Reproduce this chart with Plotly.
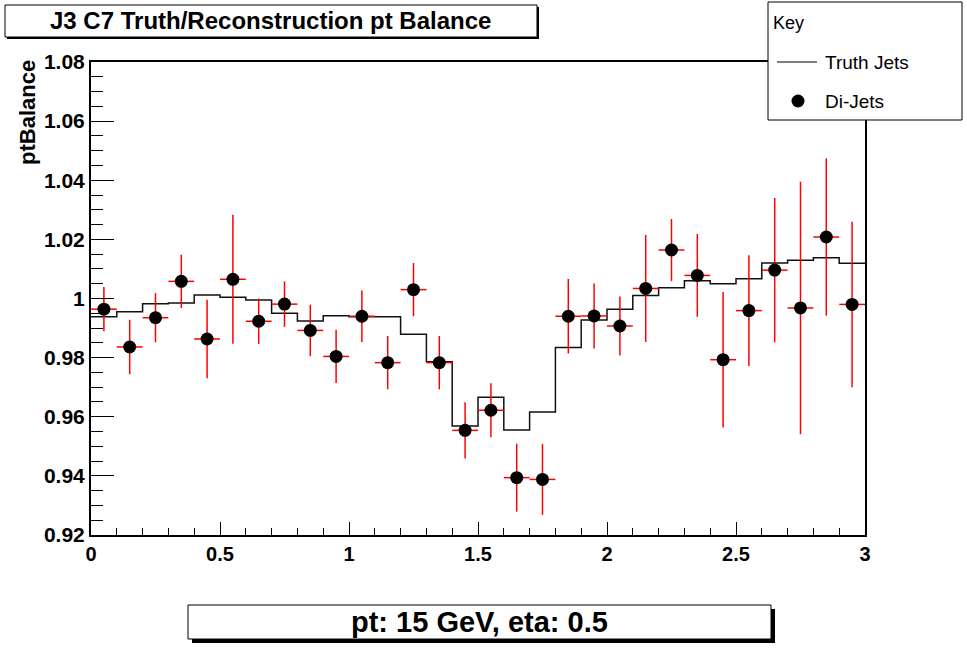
import plotly.graph_objects as go

# ---------------- data ----------------
bin_edges = [round(0.1 * i, 1) for i in range(31)]
bin_centers = [round(0.05 + 0.1 * i, 2) for i in range(30)]

truth_jets = [0.9938, 0.9955, 0.9982, 0.9985, 1.0012, 1.0004, 0.9995, 0.9950, 0.9924, 0.9942,
              0.9938, 0.9938, 0.9879, 0.9786, 0.9569, 0.9666, 0.9555, 0.9616, 0.9834, 0.9927,
              0.9964, 1.0010, 1.0036, 1.0060, 1.0050, 1.0067, 1.0120, 1.0129, 1.0138, 1.0119]

dijets = [0.9964, 0.9836, 0.9935, 1.0058, 0.9863, 1.0065, 0.9923, 0.9981, 0.9892, 0.9804,
          0.9940, 0.9783, 1.0030, 0.9783, 0.9554, 0.9622, 0.9394, 0.9388, 0.9940, 0.9941,
          0.9907, 1.0034, 1.0164, 1.0078, 0.9793, 0.9959, 1.0096, 0.9968, 1.0208, 0.9980]

dijets_err = [0.0075, 0.0092, 0.0083, 0.0090, 0.0133, 0.0218, 0.0077, 0.0077, 0.0087, 0.0090,
              0.0087, 0.0090, 0.0090, 0.0090, 0.0095, 0.0091, 0.0115, 0.0120, 0.0126, 0.0110,
              0.0100, 0.0181, 0.0105, 0.0140, 0.0229, 0.0187, 0.0244, 0.0427, 0.0266, 0.0280]

bin_half_width = 0.05

title_text = "J3 C7 Truth/Reconstruction pt Balance"
subtitle_text = "pt: 15 GeV, eta: 0.5"
y_title = "ptBalance"
legend_title = "Key"
series_names = ["Truth Jets", "Di-Jets"]

# ---------------- geometry helpers ----------------
W, H = 967, 653
L, R, T, B = 91, 865, 62, 535


def px(x):
    return (x - L) / (R - L)


def py(y):
    return (B - y) / (B - T)


FONT = "Liberation Sans, Arial, sans-serif"

fig = go.Figure()

# Truth histogram (step)
fig.add_trace(go.Scatter(
    x=bin_edges,
    y=truth_jets + [truth_jets[-1]],
    mode="lines",
    line=dict(color="#111111", width=1.5, shape="hv"),
    name=series_names[0],
    showlegend=False,
    hoverinfo="skip",
))

# Di-jets points with errors
fig.add_trace(go.Scatter(
    x=bin_centers,
    y=dijets,
    mode="markers",
    marker=dict(color="black", size=13, symbol="circle"),
    error_y=dict(type="data", array=dijets_err, color="red", thickness=1.5, width=0),
    error_x=dict(type="constant", value=bin_half_width, color="red", thickness=1.5, width=0),
    name=series_names[1],
    showlegend=False,
))

shapes = []
annotations = []

# Title box with small shadow
shapes.append(dict(type="rect", xref="paper", yref="paper",
                   x0=px(7), x1=px(539), y0=py(7), y1=py(39),
                   fillcolor="black", line=dict(width=0), layer="above"))
shapes.append(dict(type="rect", xref="paper", yref="paper",
                   x0=px(5), x1=px(537), y0=py(5), y1=py(37),
                   fillcolor="white", line=dict(color="black", width=1), layer="above"))
annotations.append(dict(text=title_text, xref="paper", yref="paper",
                        x=px(270), y=py(21), xanchor="center", yanchor="middle",
                        showarrow=False,
                        font=dict(family=FONT, size=24, color="black", weight="bold")))

# Bottom label box with shadow
shapes.append(dict(type="rect", xref="paper", yref="paper",
                   x0=px(192), x1=px(775), y0=py(609), y1=py(643),
                   fillcolor="black", line=dict(width=0), layer="above"))
shapes.append(dict(type="rect", xref="paper", yref="paper",
                   x0=px(188), x1=px(771), y0=py(605), y1=py(639),
                   fillcolor="white", line=dict(color="black", width=1), layer="above"))
annotations.append(dict(text=subtitle_text, xref="paper", yref="paper",
                        x=px(479), y=py(622), xanchor="center", yanchor="middle",
                        showarrow=False,
                        font=dict(family=FONT, size=29, color="black", weight="bold")))

# Legend ("Key") box
shapes.append(dict(type="rect", xref="paper", yref="paper",
                   x0=px(768), x1=px(962), y0=py(2), y1=py(120),
                   fillcolor="white", line=dict(color="black", width=1), layer="above"))
annotations.append(dict(text=legend_title, xref="paper", yref="paper",
                        x=px(771), y=py(23), xanchor="left", yanchor="middle",
                        showarrow=False,
                        font=dict(family=FONT, size=18, color="black")))
shapes.append(dict(type="line", xref="paper", yref="paper",
                   x0=px(777), x1=px(817), y0=py(62), y1=py(62),
                   line=dict(color="black", width=1.2), layer="above"))
annotations.append(dict(text=series_names[0], xref="paper", yref="paper",
                        x=px(823), y=py(62), xanchor="left", yanchor="middle",
                        showarrow=False,
                        font=dict(family=FONT, size=19, color="black")))
shapes.append(dict(type="circle", xref="paper", yref="paper",
                   x0=px(791.5), x1=px(804.5), y0=py(94.5), y1=py(107.5),
                   fillcolor="black", line=dict(color="black", width=0), layer="above"))
annotations.append(dict(text=series_names[1], xref="paper", yref="paper",
                        x=px(823), y=py(101), xanchor="left", yanchor="middle",
                        showarrow=False,
                        font=dict(family=FONT, size=19, color="black")))

# Y axis title (top-aligned like ROOT)
annotations.append(dict(text=y_title, xref="paper", yref="paper",
                        x=px(27), y=py(113), xanchor="center", yanchor="middle",
                        textangle=-90, showarrow=False,
                        font=dict(family=FONT, size=22, color="black", weight="bold")))

fig.update_layout(
    width=W, height=H,
    margin=dict(l=L, r=W - R, t=T, b=H - B, pad=0),
    paper_bgcolor="white",
    plot_bgcolor="white",
    showlegend=False,
    shapes=shapes,
    annotations=annotations,
    xaxis=dict(
        range=[0, 3], tick0=0, dtick=0.5,
        ticks="inside", ticklen=13, tickwidth=1.2, tickcolor="black",
        minor=dict(dtick=0.1, ticks="inside", ticklen=7, tickwidth=1.2, tickcolor="black", showgrid=False),
        showgrid=False, zeroline=False,
        showline=True, linecolor="black", linewidth=2, mirror=True,
        tickfont=dict(family=FONT, size=20, color="black", weight="bold"),
        automargin=False,
    ),
    yaxis=dict(
        range=[0.92, 1.08], tick0=0.92, dtick=0.02,
        ticks="inside", ticklen=23, tickwidth=1.2, tickcolor="black",
        minor=dict(dtick=0.005, ticks="inside", ticklen=12, tickwidth=1.2, tickcolor="black", showgrid=False),
        showgrid=False, zeroline=False,
        showline=True, linecolor="black", linewidth=2, mirror=True,
        tickfont=dict(family=FONT, size=21, color="black", weight="bold"),
        automargin=False,
    ),
)

fig.write_html("out.html")
